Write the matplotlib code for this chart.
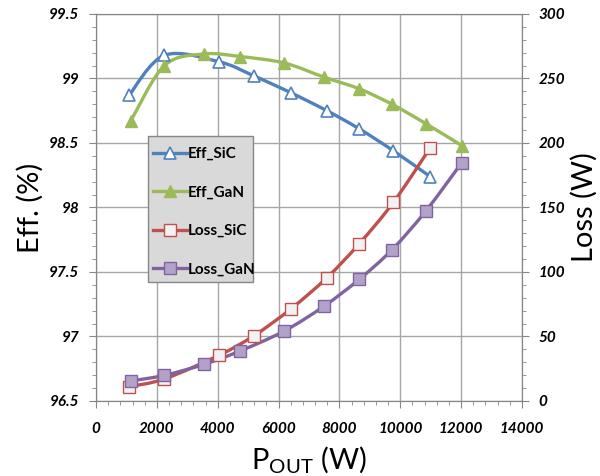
import numpy as np
import matplotlib
matplotlib.use('Agg')
from matplotlib import pyplot as plt
from matplotlib.ticker import MultipleLocator
from matplotlib.patches import Rectangle, PathPatch
from matplotlib.path import Path
from matplotlib.lines import Line2D

p_sic = [1085, 2250, 4040, 5190, 6400, 7590, 8650, 9770, 10980]
eff_sic = [98.87, 99.18, 99.13, 99.02, 98.89, 98.75, 98.61, 98.44, 98.24]
loss_sic = [11.1, 17.1, 35.4, 50.6, 71.3, 95.6, 121.9, 153.9, 196.1]

p_gan = [1140, 2250, 3550, 4740, 6190, 7500, 8650, 9730, 10840, 12020]
eff_gan = [98.67, 99.10, 99.19, 99.17, 99.12, 99.01, 98.92, 98.80, 98.65, 98.48]
loss_gan = [15.5, 19.9, 28.4, 38.8, 54.3, 73.6, 94.3, 117.3, 147.3, 184.7]

FONT = 'Lato'
tick_font = {'family': FONT, 'weight': 'bold', 'style': 'italic', 'size': 11}


def smooth_path(x, y):
    # Excel-style smoothed line: cubic Bezier through the points (Catmull-Rom)
    pts = np.column_stack([x, y]).astype(float)
    ext = np.vstack([pts[0], pts, pts[-1]])
    verts = [pts[0]]
    codes = [Path.MOVETO]
    for i in range(len(pts) - 1):
        p0, p1, p2, p3 = ext[i], ext[i + 1], ext[i + 2], ext[i + 3]
        verts += [p1 + (p2 - p0) / 6, p2 - (p3 - p1) / 6, p2]
        codes += [Path.CURVE4] * 3
    return Path(verts, codes)


def series(a, x, y, color, marker, ms, mfc, mew, label):
    a.add_patch(PathPatch(smooth_path(x, y), fill=False, edgecolor=color,
                          lw=2.4, capstyle='round', joinstyle='round', zorder=2))
    a.plot(x, y, ls='none', marker=marker, ms=ms, mfc=mfc, mec=color,
           mew=mew, zorder=3)
    return Line2D([], [], color=color, lw=2.4, marker=marker, ms=ms,
                  mfc=mfc, mec=color, mew=mew, label=label)


fig = plt.figure(figsize=(6, 4.76), dpi=100)
ax = fig.add_axes([0.16, 0.1576, 0.71, 0.813])
ax2 = ax.twinx()

h1 = series(ax, p_sic, eff_sic, '#4F81BD', '^', 9, 'white', 1.2, 'Eff_SiC')
h2 = series(ax, p_gan, eff_gan, '#9BBB59', '^', 9, '#9BBB59', 1.0, 'Eff_GaN')
h3 = series(ax2, p_sic, loss_sic, '#C0504D', 's', 8, '#F2F2F2', 1.0, 'Loss_SiC')
h4 = series(ax2, p_gan, loss_gan, '#8064A2', 's', 8, '#B3A2C7', 1.0, 'Loss_GaN')

ax.set_xlim(0, 14000)
ax.set_ylim(96.5, 99.5)
ax2.set_ylim(0, 300)
ax.xaxis.set_major_locator(MultipleLocator(2000))
ax.xaxis.set_minor_locator(MultipleLocator(400))
ax.yaxis.set_major_locator(MultipleLocator(0.5))
ax.yaxis.set_minor_locator(MultipleLocator(0.1))
ax2.yaxis.set_major_locator(MultipleLocator(50))
ax2.yaxis.set_minor_locator(MultipleLocator(10))

ax.grid(True, which='major', color='#A6A6A6', lw=1.0)
ax.set_axisbelow(True)
for a in (ax, ax2):
    for s in a.spines.values():
        s.set_color('#878787')
    a.tick_params(which='both', color='#878787', direction='out')
    a.tick_params(which='major', length=5, pad=7)
    a.tick_params(which='minor', length=3)
ax.tick_params(axis='x', which='major', pad=10)

ax.set_yticks(ax.get_yticks())
ax.set_yticklabels(['%g' % v for v in ax.get_yticks()], fontdict=tick_font)
ax.set_xticks(ax.get_xticks())
ax.set_xticklabels(['%d' % v for v in ax.get_xticks()], fontdict=tick_font)
ax2.set_yticks(ax2.get_yticks())
ax2.set_yticklabels(['%d' % v for v in ax2.get_yticks()], fontdict=tick_font)
ax.set_ylim(96.5, 99.5)
ax2.set_ylim(0, 300)
ax.set_xlim(0, 14000)

ax.set_xlabel('P$_{\\mathregular{OUT}}$ (W)', fontsize=21, family=FONT, labelpad=6)
ax.set_ylabel('Eff. (%)', fontsize=21, family=FONT, labelpad=4)
ax2.set_ylabel('Loss (W)', fontsize=21, family=FONT, labelpad=4)

# legend box (grey panel) with the entries laid over it
ax.add_patch(Rectangle((0.122, 0.3075), 0.2465, 0.3773, transform=ax.transAxes,
                       facecolor='#D9D9D9', edgecolor='#878787', lw=1.0, zorder=4))
leg = ax.legend(handles=[h1, h2, h3, h4], loc='upper left',
                bbox_to_anchor=(0.134, 0.656), frameon=False,
                labelspacing=1.6, handlelength=2.2, handletextpad=0.1,
                borderpad=0, borderaxespad=0,
                prop={'family': FONT, 'weight': 'bold', 'size': 11})
leg.set_zorder(5)

plt.savefig('out.png')
